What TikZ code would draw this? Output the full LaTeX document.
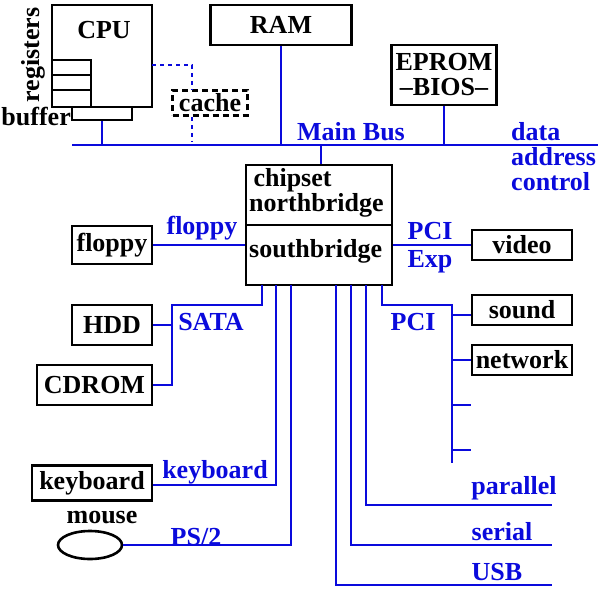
\documentclass[tikz,border=0pt]{standalone}
\usepackage{fontspec}
\setmainfont{Liberation Serif}
\usetikzlibrary{positioning, shapes.geometric}
\definecolor{BusBlue}{RGB}{10, 10, 220}

\begin{document}
\begin{tikzpicture}[x=1pt, y=-1pt,
        font=\fontsize{26}{25}\selectfont\bfseries,
        box/.style={rectangle, draw, line width=2.6pt, inner sep=0pt},
        bus/.style={BusBlue, line width=2.6pt},
        buslabel/.style={text=BusBlue, inner sep=1pt},
        plain/.style={inner sep=1pt}
    ]
        \useasboundingbox (0,0) rectangle (604,588);
        % processor side
        \node[box, minimum width=100pt, minimum height=102pt] (cpu) at (102,56) {};
        \node[plain] at (104,30) {CPU};
        \draw[line width=2.6pt] (52,60) rectangle (91,107);
        \draw[line width=2.6pt] (52,75) -- (91,75) (52,90) -- (91,90);
        \node[box, minimum width=60pt, minimum height=13pt] (buffer) at (102,113.5) {};
        \node[plain, anchor=east] at (72,117) {buffer};
        \node[plain, rotate=90] at (33,55) {registers};
        \node[box, dash pattern=on 6pt off 4pt, minimum width=75pt, minimum height=25pt] (cache) at (210,103) {cache};
        \node[box, minimum width=141pt, minimum height=40pt] (ram) at (281,25) {RAM};
        \node[box, minimum width=105pt, minimum height=60pt, align=center] (eprom) at (444,75) {EPROM\\--BIOS--};
        % main bus
        \coordinate (busL) at (72,145);
        \coordinate (busR) at (598,145);
        \draw[bus] (busL) -- (busR);
        \node[buslabel] at (351,132) {Main Bus};
        \node[buslabel, anchor=west, align=left] at (510,157) {data\\address\\control};
        \draw[bus] (buffer.south) -- (buffer.south |- busL);
        \draw[bus] (ram.south) -- (ram.south |- busL);
        \draw[bus] (eprom.south) -- (eprom.south |- busL);
        \draw[bus, dash pattern=on 4pt off 4pt] (152,65) -- (192,65) -- (cache.north -| 192,0);
        \draw[bus, dash pattern=on 4pt off 4pt] (cache.south -| 192,0) -- (192,141);
        % chipset
        \node[box, minimum width=146pt, minimum height=120pt] (chip) at (319,225) {};
        \draw[line width=2.6pt] (246,225) -- (392,225);
        \node[plain, anchor=north west, align=left] at (248,167) {\,chipset\\northbridge};
        \node[plain, anchor=west] (south) at (248,251) {southbridge};
        \draw[bus] (321,145) -- (chip.north -| 321,0);
        % left devices
        \node[box, minimum width=80pt, minimum height=38pt] (floppy) at (112,245) {floppy};
        \draw[bus] (floppy.east) -- (floppy.east -| chip.west);
        \node[buslabel] at (202,228) {floppy};
        \node[box, minimum width=80pt, minimum height=40pt] (hdd) at (112,325) {HDD};
        \node[box, minimum width=115pt, minimum height=40pt] (cdrom) at (94.5,385) {CDROM};
        \coordinate (sata) at (172,305);
        \draw[bus] (262,285) -- (262,305) -- (sata) -- (sata |- cdrom.east) -- (cdrom.east);
        \draw[bus] (hdd.east) -- (hdd.east -| sata);
        \node[buslabel] at (211,322) {SATA};
        \node[box, minimum width=120pt, minimum height=35pt] (kbd) at (92,483) {keyboard};
        \draw[bus] (276,285) -- (276,485) -- (kbd.east |- 0,485);
        \node[buslabel] at (215,472) {keyboard};
        \node[ellipse, draw, line width=2.6pt, minimum width=64pt, minimum height=28pt] (mouse) at (90,545) {};
        \node[plain] at (102,518) {mouse};
        \draw[bus] (291,285) -- (291,545) -- (mouse.east);
        \node[buslabel] at (196,537) {PS/2};
        % right devices
        \node[box, minimum width=100pt, minimum height=30pt] (video) at (522,245) {video};
        \draw[bus] (video.west) -- (video.west -| chip.east);
        \node[buslabel] at (430,231) {PCI};
        \node[buslabel] at (430,262) {Exp};
        \node[box, minimum width=100pt, minimum height=30pt] (sound) at (522,310) {sound};
        \node[box, minimum width=100pt, minimum height=30pt] (network) at (522,360) {network};
        \coordinate (pci) at (452,305);
        \draw[bus] (382,285) -- (382,305) -- (pci) -- (452,463);
        \draw[bus] (sound.west |- 0,315) -- (452,315);
        \draw[bus] (network.west) -- (network.west -| pci);
        \foreach \y in {405,450}
            \draw[bus] (452,\y) -- (471,\y);
        \node[buslabel] at (413,322) {PCI};
        \draw[bus] (366,285) -- (366,505) -- (552,505);
        \node[buslabel] at (514,488) {parallel};
        \draw[bus] (351,285) -- (351,545) -- (552,545);
        \node[buslabel] at (502,532) {serial};
        \draw[bus] (336,285) -- (336,585) -- (552,585);
        \node[buslabel] at (497,572) {USB};
    \end{tikzpicture}
\end{document}
